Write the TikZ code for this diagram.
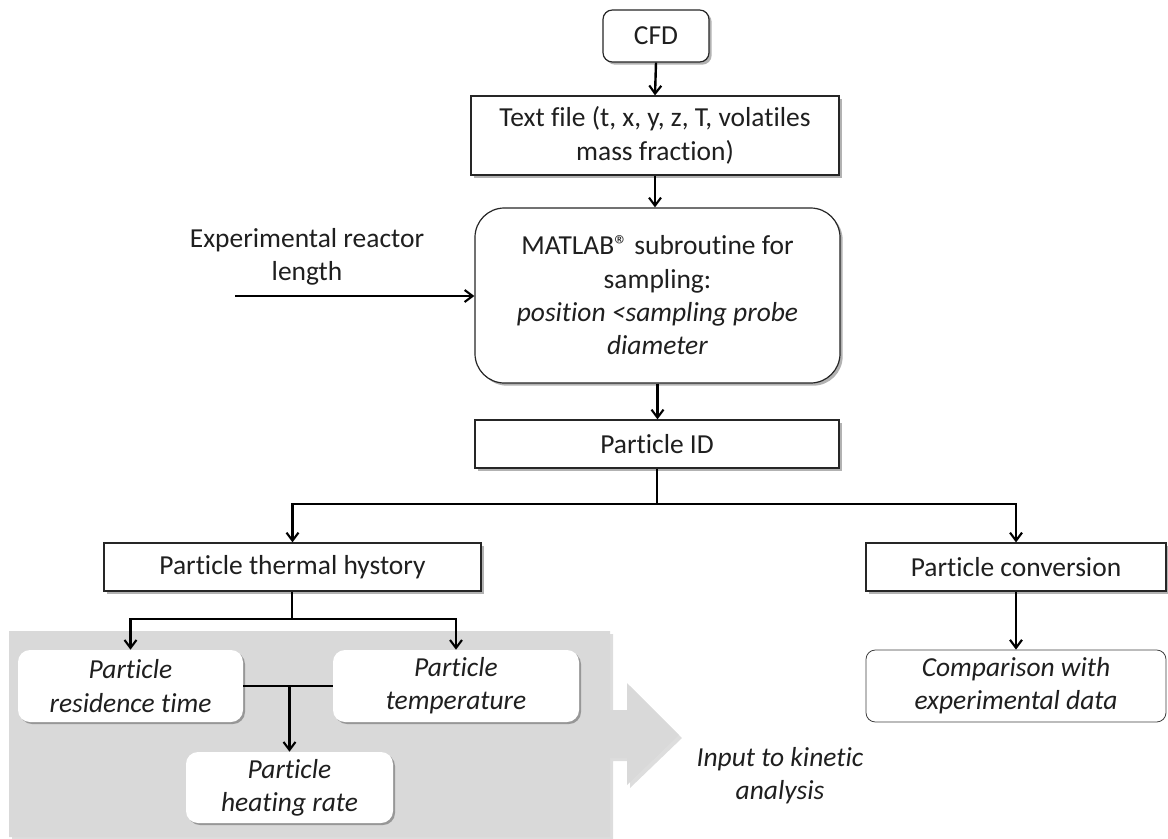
\documentclass[tikz,border=0pt]{standalone}
\usepackage{fontspec}
\setmainfont{Carlito}[Ligatures=NoCommon]
\usetikzlibrary{arrows.meta,shadows}
\begin{document}
\begin{tikzpicture}[x=0.75pt,y=-0.75pt,
  font=\fontsize{20.6}{25}\selectfont,
  txt/.style={text=black!88},
  boxsh/.style={drop shadow={shadow xshift=2pt,shadow yshift=-2pt,opacity=0.3,fill=black}},
  plainbox/.style={draw=black!85,line width=0.9pt,fill=white,align=center,inner sep=2pt,txt,boxsh},
  roundbox/.style={plainbox,rounded corners=#1},
  whitebox/.style={fill=white,rounded corners=9pt,align=center,inner sep=2pt,txt,
     drop shadow={shadow xshift=1.5pt,shadow yshift=-1.5pt,opacity=0.3,fill=black}},
  arr/.style={line width=1.8pt,-{Straight Barb[length=6pt,width=9pt,line width=1.6pt]}},
  ln/.style={line width=1.8pt}
]
\useasboundingbox (0,0) rectangle (1168,839);

% grey panel with block arrow
\path[fill=black!22,opacity=0.6] (12,634) -- (613,634) -- (613,713) -- (630,713) -- (630,686) -- (682,738) -- (630,788) -- (630,761) -- (613,761) -- (613,840) -- (12,840) -- cycle;
\path[fill=black!15] (9,631) -- (610,631) -- (610,710) -- (627,710) -- (627,683) -- (679,735) -- (627,785) -- (627,758) -- (610,758) -- (610,837) -- (9,837) -- cycle;

% top chain
\node[roundbox=7pt,minimum width=79.5pt,minimum height=39pt] (cfd) at (656,36) {CFD};
\node[plainbox,minimum width=276pt,minimum height=59.25pt] (tf) at (655,135.5) {Text file (t, x, y, z, T, volatiles\\mass fraction)};
\node[roundbox=22pt,minimum width=273.75pt,minimum height=131.25pt] (mat) at (657.5,295.5) {MATLAB® subroutine for\\sampling:\\\textit{position <sampling probe}\\\textit{diameter}};
\node[plainbox,minimum width=273pt,minimum height=36pt] (pid) at (657,444) {Particle ID};

\node[txt,align=center] (exp) at (307,257) {Experimental reactor\\length};
\coordinate (expstart) at (235,296);

\node[plainbox,minimum width=282.75pt,minimum height=36pt] (th) at (292.5,567) {Particle thermal hystory};
\node[plainbox,minimum width=225pt,minimum height=36pt] (conv) at (1016,567) {Particle conversion};
\node[draw=black!75,line width=0.6pt,fill=white,rounded corners=7pt,align=center,inner sep=2pt,txt,minimum width=225pt,minimum height=54pt] (cmp) at (1016,686) {\textit{Comparison with}\\\textit{experimental data}};

\node[whitebox,minimum width=168.75pt,minimum height=54pt] (res) at (130.5,686) {\textit{Particle}\\\textit{residence time}};
\node[whitebox,minimum width=184.5pt,minimum height=54pt] (temp) at (456,686) {\textit{Particle}\\\textit{temperature}};
\node[whitebox,minimum width=155.25pt,minimum height=53.25pt] (heat) at (289.5,787.5) {\textit{Particle}\\\textit{heating rate}};

\node[txt,align=center] (inp) at (780,776) {\textit{Input to kinetic}\\\textit{analysis}};

% connectors
\draw[arr] (cfd.south) -- (tf.north);
\draw[arr] (tf.south) -- (tf.south |- mat.north);
\draw[arr] (mat.south) -- (mat.south |- pid.north);
\draw[arr] (expstart) -- (expstart -| mat.west);

\coordinate (sp1) at (657,504);
\draw[ln] (pid.south) -- (sp1);
\draw[arr] (sp1) -| (th.north);
\draw[arr] (sp1) -| (conv.north);
\draw[arr] (conv.south) -- (cmp.north);

\coordinate (sp2) at (292,619);
\draw[ln] (th.south -| sp2) -- (sp2);
\draw[arr] (sp2) -| (res.north);
\draw[arr] (sp2) -| (temp.north);

\draw[ln] (res.east) -- (temp.west);
\draw[arr] (res.east -| heat.north) -- (heat.north);
\end{tikzpicture}
\end{document}
